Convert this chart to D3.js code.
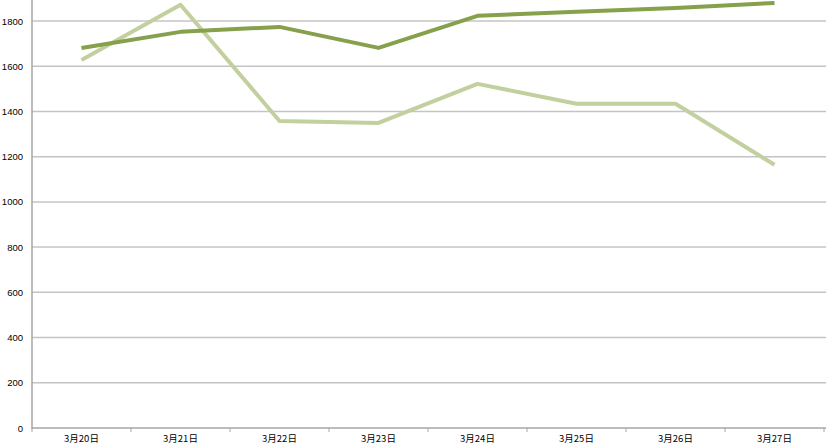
<!DOCTYPE html>
<html><head><meta charset="utf-8">
<script src="https://cdn.jsdelivr.net/npm/d3@7"></script>
<style>body{margin:0;background:#fff;}svg{display:block;}</style>
</head><body>
<svg id="c" width="835" height="444"></svg>
<script>
const categories = ["3月20日","3月21日","3月22日","3月23日","3月24日","3月25日","3月26日","3月27日"];
const seriesDark = [1681,1752,1774,1681,1823,1841,1858,1880];
const seriesLight = [1628,1872,1358,1349,1522,1434,1434,1164];
const yTicks = [0,200,400,600,800,1000,1200,1400,1600,1800];

const svg = d3.select("#c");
const left = 32, right = 824, bottom = 428;
const x = d3.scaleBand().domain(categories).range([left, right]);
const y = d3.scaleLinear().domain([0, 1800]).range([bottom, 21]);

// gridlines
svg.append("g").selectAll("line").data(yTicks.filter(d=>d>0)).join("line")
  .attr("x1", left).attr("x2", 826)
  .attr("y1", d=>y(d)).attr("y2", d=>y(d))
  .attr("stroke", "#c4c4c4").attr("stroke-width", 1.5);

// y axis
const yAxis = d3.axisLeft(y).tickValues(yTicks).tickFormat(d3.format("d")).tickSize(0).tickPadding(9);
const gy = svg.append("g").attr("transform", `translate(${left},0)`).call(yAxis);
gy.select(".domain").remove();
gy.selectAll("text").attr("font-family","Liberation Sans, Arial, sans-serif").attr("font-size",9.5).attr("fill","#000");
svg.append("line").attr("x1",left).attr("x2",left).attr("y1",0).attr("y2",bottom+1).attr("stroke","#a6a6a6").attr("stroke-width",1.5);

// x axis
svg.append("line").attr("x1",left).attr("x2",826).attr("y1",bottom).attr("y2",bottom).attr("stroke","#a6a6a6").attr("stroke-width",1.5);
const bounds = categories.map(c=>x(c)).concat([right]);
svg.append("g").selectAll("line").data(bounds).join("line")
  .attr("x1",d=>d).attr("x2",d=>d).attr("y1",bottom).attr("y2",bottom+4)
  .attr("stroke","#a6a6a6").attr("stroke-width",1);
svg.append("g").selectAll("text").data(categories).join("text")
  .attr("x", d=>x(d)+x.bandwidth()/2).attr("y", 442)
  .attr("text-anchor","middle")
  .attr("font-family","Noto Sans CJK SC, sans-serif").attr("font-size",9.5).attr("fill","#000")
  .text(d=>d);

const line = d3.line().x((d,i)=>x(categories[i])+x.bandwidth()/2).y(d=>y(d));
svg.append("path").datum(seriesLight).attr("d",line).attr("fill","none")
  .attr("stroke","#c2d09f").attr("stroke-width",4).attr("stroke-linejoin","round");
svg.append("path").datum(seriesDark).attr("d",line).attr("fill","none")
  .attr("stroke","#86a04c").attr("stroke-width",4).attr("stroke-linejoin","round");
</script>
</body></html>
